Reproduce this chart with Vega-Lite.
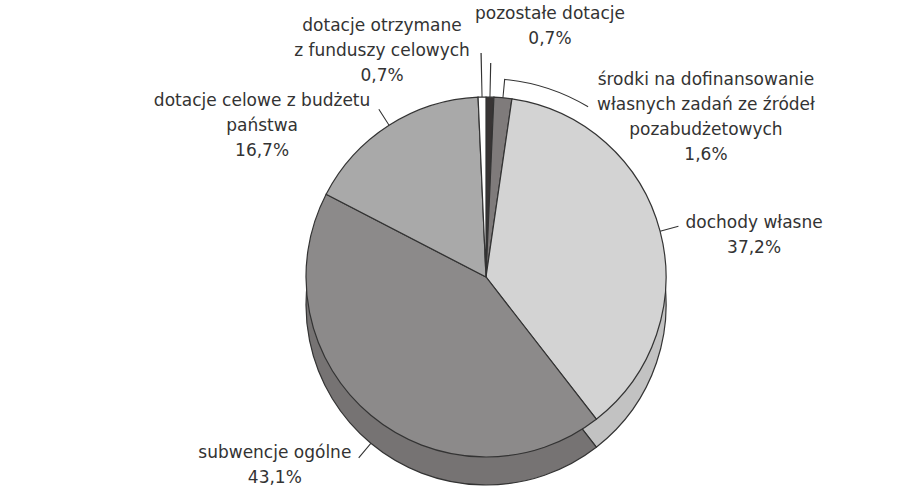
{
  "$schema": "https://vega.github.io/schema/vega-lite/v6.json",
  "width": 858,
  "height": 444,
  "padding": {"left": 57, "top": 55, "right": 0, "bottom": 0},
  "autosize": {"type": "none"},
  "background": "white",
  "config": {
    "view": {"stroke": null},
    "text": {"font": "DejaVu Sans", "fontSize": 17, "fill": "#333333", "align": "center", "baseline": "top", "lineBreak": "\n", "lineHeight": 25}
  },
  "data": {
    "values": [
      {"nazwa": "pozostałe dotacje", "udzial": 0.7},
      {"nazwa": "środki na dofinansowanie\nwłasnych zadań ze źródeł\npozabudżetowych", "udzial": 1.6},
      {"nazwa": "dochody własne", "udzial": 37.2},
      {"nazwa": "subwencje ogólne", "udzial": 43.1},
      {"nazwa": "dotacje celowe z budżetu\npaństwa", "udzial": 16.7},
      {"nazwa": "dotacje otrzymane\nz funduszy celowych", "udzial": 0.7}
    ]
  },
  "transform": [
    {"window": [{"op": "row_number", "as": "idx"}]},
    {"window": [{"op": "sum", "field": "udzial", "as": "cum"}], "sort": [{"field": "idx"}], "frame": [null, 0]},
    {"calculate": "datum.cum - datum.udzial / 2", "as": "mid"},
    {"calculate": "datum.mid - 0.045", "as": "ta"},
    {"calculate": "datum.mid + 0.045", "as": "tb"},
    {"calculate": "datum.nazwa + '\\n' + replace(format(datum.udzial, '.1f'), '.', ',') + '%'", "as": "etykieta"}
  ],
  "layer": [
    {
      "mark": {"type": "arc", "radius": 180, "yOffset": 28, "stroke": "#333333", "strokeWidth": 1.2},
      "encoding": {
        "theta": {"field": "udzial", "type": "quantitative", "stack": true, "scale": {"domain": [0, 100]}},
        "order": {"field": "idx", "type": "quantitative"},
        "color": {
          "field": "idx", "type": "nominal", "legend": null,
          "scale": {"domain": [1, 2, 3, 4, 5, 6], "range": ["#2a2828", "#6a6666", "#c2c2c2", "#767373", "#959595", "#e8e8e8"]}
        }
      }
    },
    {
      "mark": {"type": "arc", "radius": 180, "stroke": "#333333", "strokeWidth": 1.2},
      "encoding": {
        "theta": {"field": "udzial", "type": "quantitative", "stack": true, "scale": {"domain": [0, 100]}},
        "order": {"field": "idx", "type": "quantitative"},
        "fill": {
          "field": "idx", "type": "nominal", "legend": null,
          "scale": {"domain": [1, 2, 3, 4, 5, 6], "range": ["#383434", "#7f7b7b", "#d3d3d3", "#8c8a8a", "#a9a9a9", "#ffffff"]}
        }
      }
    },
    {
      "transform": [{"filter": "datum.idx == 2 || datum.idx == 3 || datum.idx == 5"}],
      "mark": {"type": "arc", "radius": 199, "radius2": 180, "fill": "#333333"},
      "encoding": {
        "theta": {"field": "ta", "type": "quantitative", "stack": null, "scale": {"domain": [0, 100]}},
        "theta2": {"field": "tb"}
      }
    },
    {
      "transform": [{"filter": "datum.idx == 6"}],
      "mark": {"type": "arc", "radius": 224, "radius2": 180, "fill": "#333333"},
      "encoding": {
        "theta": {"field": "ta", "type": "quantitative", "stack": null, "scale": {"domain": [0, 100]}},
        "theta2": {"field": "tb"}
      }
    },
    {
      "transform": [{"filter": "datum.idx == 1"}],
      "mark": {"type": "arc", "radius": 214, "radius2": 180, "fill": "#333333"},
      "encoding": {
        "theta": {"field": "ta", "type": "quantitative", "stack": null, "scale": {"domain": [0, 100]}},
        "theta2": {"field": "tb"}
      }
    },
    {
      "transform": [{"filter": "datum.idx == 4"}],
      "mark": {"type": "arc", "radius": 199, "radius2": 180, "yOffset": 28, "fill": "#333333"},
      "encoding": {
        "theta": {"field": "ta", "type": "quantitative", "stack": null, "scale": {"domain": [0, 100]}},
        "theta2": {"field": "tb"}
      }
    },
    {
      "transform": [{"filter": "datum.idx == 2"}, {"calculate": "datum.mid + 7.1", "as": "koniec"}],
      "mark": {"type": "arc", "radius": 199, "radius2": 198, "fill": "#333333"},
      "encoding": {
        "theta": {"field": "mid", "type": "quantitative", "stack": null, "scale": {"domain": [0, 100]}},
        "theta2": {"field": "koniec"}
      }
    },
    {
      "transform": [{"filter": "datum.idx == 1"}],
      "mark": {"type": "text", "radius": 180, "dx": 60, "dy": -91},
      "encoding": {
        "theta": {"field": "mid", "type": "quantitative", "stack": null, "scale": {"domain": [0, 100]}},
        "text": {"field": "etykieta"}
      }
    },
    {
      "transform": [{"filter": "datum.idx == 2"}],
      "mark": {"type": "text", "radius": 180, "dx": 203, "dy": -26},
      "encoding": {
        "theta": {"field": "mid", "type": "quantitative", "stack": null, "scale": {"domain": [0, 100]}},
        "text": {"field": "etykieta"}
      }
    },
    {
      "transform": [{"filter": "datum.idx == 3"}],
      "mark": {"type": "text", "radius": 180, "dx": 94, "dy": -16},
      "encoding": {
        "theta": {"field": "mid", "type": "quantitative", "stack": null, "scale": {"domain": [0, 100]}},
        "text": {"field": "etykieta"}
      }
    },
    {
      "transform": [{"filter": "datum.idx == 4"}],
      "mark": {"type": "text", "radius": 180, "dx": -96, "dy": 30},
      "encoding": {
        "theta": {"field": "mid", "type": "quantitative", "stack": null, "scale": {"domain": [0, 100]}},
        "text": {"field": "etykieta"}
      }
    },
    {
      "transform": [{"filter": "datum.idx == 5"}],
      "mark": {"type": "text", "radius": 180, "dx": -127, "dy": -32},
      "encoding": {
        "theta": {"field": "mid", "type": "quantitative", "stack": null, "scale": {"domain": [0, 100]}},
        "text": {"field": "etykieta"}
      }
    },
    {
      "transform": [{"filter": "datum.idx == 6"}],
      "mark": {"type": "text", "radius": 180, "dx": -100, "dy": -79},
      "encoding": {
        "theta": {"field": "mid", "type": "quantitative", "stack": null, "scale": {"domain": [0, 100]}},
        "text": {"field": "etykieta"}
      }
    }
  ]
}
